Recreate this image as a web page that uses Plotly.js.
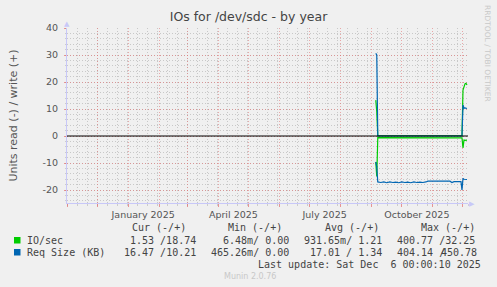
<!DOCTYPE html>
<html>
<head>
<meta charset="utf-8">
<script src="https://cdn.plot.ly/plotly-3.0.1.min.js"></script>
<style>html,body{margin:0;padding:0;background:#f0f0f0;}#chart{width:497px;height:287px;}</style>
</head>
<body>
<div id="chart"></div>
<script>
// ---- data ----
const dates = ['2025-09-05','2025-09-06','2025-09-07','2025-09-10','2025-09-13','2025-09-16','2025-09-19','2025-09-22','2025-09-25','2025-09-28',
  '2025-10-01','2025-10-04','2025-10-07','2025-10-10','2025-10-13','2025-10-16','2025-10-19','2025-10-22','2025-10-25','2025-10-27',
  '2025-11-01','2025-11-06','2025-11-11','2025-11-16','2025-11-18','2025-11-20','2025-11-22','2025-11-25','2025-11-29','2025-11-30',
  '2025-12-01','2025-12-02','2025-12-03','2025-12-04','2025-12-05'];
const ioWrite = [13.3, 9.0, 0.1, 0.1, 0.1, 0.1, 0.1, 0.1, 0.1, 0.1,
  0.1, 0.1, 0.1, 0.1, 0.1, 0.1, 0.1, 0.1, 0.1, 0.1,
  0.1, 0.1, 0.1, 0.1, 0.1, 0.1, 0.1, 0.1, 0.1, 0.1,
  17.0, 18.5, 19.3, 19.5, 18.9];
const ioRead = [-9.6, -15.0, -0.6, -0.6, -0.6, -0.6, -0.6, -0.6, -0.6, -0.6,
  -0.6, -0.6, -0.6, -0.6, -0.6, -0.6, -0.6, -0.6, -0.6, -0.6,
  -0.6, -0.6, -0.6, -0.6, -0.6, -0.6, -0.6, -0.6, -0.6, -0.7,
  -4.4, -1.5, -1.6, -1.5, -1.5];
const reqWrite = [30.6, 30.0, 0, 0, 0, 0, 0, 0, 0, 0,
  0, 0, 0, 0, 0, 0, 0, 0, 0, 0,
  0, 0, 0, 0, 0, 0, 0, 0, 0, 0,
  11.5, 10.3, 10.4, 10.2, 10.2];
const reqRead = [-9.6, -11.4, -17.0, -17.2, -17.0, -17.3, -17.0, -17.2, -17.1, -17.3,
  -17.0, -17.2, -17.1, -17.3, -17.0, -17.2, -17.1, -17.2, -17.0, -16.7,
  -16.7, -16.7, -16.8, -16.7, -16.7, -17.2, -16.9, -16.9, -16.9, -20.0,
  -15.7, -16.0, -16.1, -16.0, -16.1];

const monthStarts = ['2024-11-01','2024-12-01','2025-01-01','2025-02-01','2025-03-01','2025-04-01','2025-05-01',
  '2025-06-01','2025-07-01','2025-08-01','2025-09-01','2025-10-01','2025-11-01','2025-12-01'];
const monthLabels = ['','','January 2025','','','April 2025','','','July 2025','','','October 2025','',''];
const yTicks = [-20, -10, 0, 10, 20, 30, 40];
const yTickText = ['-20', '-10', '0', '10', '20', '30', '40'];

const seriesNames = ['IO/sec', 'Req Size (KB)'];
const seriesColors = ['#00cc00', '#0066b3'];
const legendHeader = ['Cur (-/+)', 'Min (-/+)', 'Avg (-/+)', 'Max (-/+)'];
const ioStats = ['1.53 /18.74', '6.48m/ 0.00', '931.65m/ 1.21', '400.77 /32.25'];
const reqStats = ['16.47 /10.21', '465.26m/ 0.00', '17.01 / 1.34', '404.14 /', '450.78'];
const lastUpdate = 'Last update: Sat Dec\u00a0\u00a06 00:00:10 2025';

// ---- geometry helpers (pixel -> paper) ----
const L = 67, R = 468, T = 28, B = 203;
const px = x => (x - L) / (R - L);
const py = y => (B - y) / (B - T);

const mono = {family: 'DejaVu Sans Mono', size: 10, color: '#444'};
function ann(x, y, text, xanchor, font, extra) {
  return Object.assign({xref: 'paper', yref: 'paper', x: px(x), y: py(y), text: text,
    xanchor: xanchor, yanchor: 'middle', showarrow: false, font: font, borderpad: 0}, extra || {});
}

const traces = [
  {x: dates, y: ioRead, type: 'scatter', mode: 'lines', line: {color: seriesColors[0], width: 1.2}, hoverinfo: 'skip'},
  {x: dates, y: ioWrite, type: 'scatter', mode: 'lines', line: {color: seriesColors[0], width: 1.2}, hoverinfo: 'skip'},
  {x: dates, y: reqRead, type: 'scatter', mode: 'lines', line: {color: seriesColors[1], width: 1.2}, hoverinfo: 'skip'},
  {x: dates, y: reqWrite, type: 'scatter', mode: 'lines', line: {color: seriesColors[1], width: 1.2}, hoverinfo: 'skip'}
];

const annotations = [
  // header
  ann(187, 227.5, legendHeader[0], 'right', mono),
  ann(283, 227.5, legendHeader[1], 'right', mono),
  ann(380, 227.5, legendHeader[2], 'right', mono),
  ann(476, 227.5, legendHeader[3], 'right', mono),
  // row 1
  ann(26, 240, seriesNames[0], 'left', mono),
  ann(197, 240, ioStats[0], 'right', mono),
  ann(290, 240, ioStats[1], 'right', mono),
  ann(383, 240, ioStats[2], 'right', mono),
  ann(476, 240, ioStats[3], 'right', mono),
  // row 2
  ann(26, 252, seriesNames[1], 'left', mono),
  ann(197, 252, reqStats[0], 'right', mono),
  ann(290, 252, reqStats[1], 'right', mono),
  ann(383, 252, reqStats[2], 'right', mono),
  ann(446, 252, reqStats[3], 'right', mono),
  ann(440, 252, reqStats[4], 'left', mono),
  // last update
  ann(482, 264, lastUpdate, 'right', mono),
  // munin version
  ann(223, 276.5, 'Munin 2.0.76', 'left', {family: 'DejaVu Sans', size: 8, color: '#c8c8c8'}),
  // rrdtool watermark
  ann(488, 53, 'RRDTOOL / TOBI OETIKER', 'center', {family: 'DejaVu Sans', size: 7.5, color: '#c8c8c8'}, {textangle: 90}),
  // axis arrows
  ann(67, 24, '\u25B2', 'center', {family: 'DejaVu Sans', size: 7, color: '#c8c8f8'}),
  ann(472, 203.5, '\u25B6', 'center', {family: 'DejaVu Sans', size: 7, color: '#c8c8f8'})
];

const shapes = [
  {type: 'rect', xref: 'paper', yref: 'paper', x0: px(14), x1: px(20.5), y0: py(243.5), y1: py(237), fillcolor: seriesColors[0], line: {width: 0}},
  {type: 'rect', xref: 'paper', yref: 'paper', x0: px(14), x1: px(20.5), y0: py(255.5), y1: py(249), fillcolor: seriesColors[1], line: {width: 0}},
  {type: 'line', xref: 'paper', yref: 'y', x0: 0, x1: 1, y0: 0, y1: 0, line: {color: '#000', width: 1.2}, layer: 'above'}
];

const layout = {
  width: 497, height: 287,
  margin: {l: L, r: 497 - R, t: T, b: 287 - B, pad: 0},
  paper_bgcolor: '#f0f0f0', plot_bgcolor: '#f0f0f0',
  showlegend: false,
  font: {family: 'DejaVu Sans', color: '#555'},
  title: {text: 'IOs for /dev/sdc - by year', font: {family: 'DejaVu Sans', size: 12.5, color: '#444'},
    x: 0.5, xref: 'container', xanchor: 'center', y: 1 - 17 / 287, yref: 'container', yanchor: 'middle'},
  xaxis: {
    type: 'date', range: ['2024-11-01', '2025-12-06'],
    tickmode: 'array', tickvals: monthStarts, ticktext: monthLabels, ticklabelshift: 15,
    showgrid: true, gridcolor: 'rgba(225,110,110,0.55)', griddash: '1px,2px', gridwidth: 1,
    ticks: 'outside', ticklen: 3, tickcolor: 'rgba(225,110,110,0.7)',
    minor: {dtick: 864000000, tick0: '2024-11-01', showgrid: true, gridcolor: '#c8c8c8', griddash: '1px,2px',
      ticks: 'outside', ticklen: 2, tickcolor: '#cccccc'},
    showline: true, linecolor: '#c8c8f8', linewidth: 1,
    zeroline: false, tickfont: {family: 'DejaVu Sans', size: 9.5, color: '#555'}, fixedrange: true
  },
  yaxis: {
    range: [-24.8, 40],
    tickmode: 'array', tickvals: yTicks, ticktext: yTickText,
    showgrid: true, gridcolor: 'rgba(225,110,110,0.55)', griddash: '1px,2px',
    ticks: 'outside', ticklen: 2, tickcolor: 'rgba(225,110,110,0.7)', ticklabelstandoff: 4,
    minor: {dtick: 2, tick0: 0, showgrid: true, gridcolor: '#c8c8c8', griddash: '1px,2px', ticks: 'outside', ticklen: 1, tickcolor: '#cccccc'},
    showline: true, linecolor: '#c8c8f8', linewidth: 1,
    zeroline: false, tickfont: {family: 'DejaVu Sans', size: 9.5, color: '#555'},
    title: {text: 'Units read (-) / write (+)', font: {family: 'DejaVu Sans', size: 11, color: '#555'}, standoff: 22},
    fixedrange: true
  },
  annotations: annotations,
  shapes: shapes
};

Plotly.newPlot('chart', traces, layout, {displayModeBar: false, staticPlot: true});
</script>
</body>
</html>
